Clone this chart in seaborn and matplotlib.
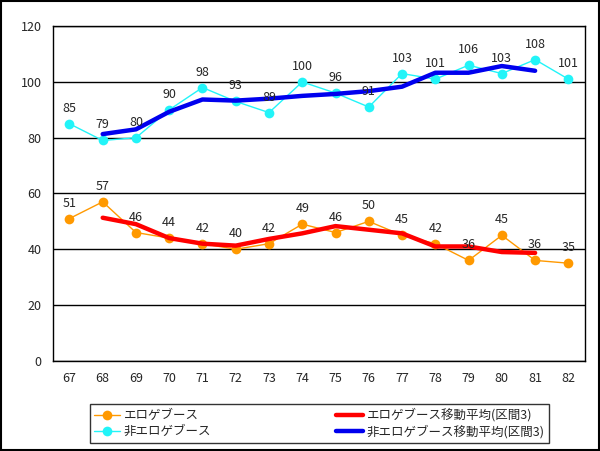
import numpy as np
import pandas as pd
import matplotlib
matplotlib.use('Agg')
import matplotlib.pyplot as plt
import seaborn as sns
from matplotlib.patches import Rectangle

# データ
years = [67, 68, 69, 70, 71, 72, 73, 74, 75, 76, 77, 78, 79, 80, 81, 82]
ero = [51, 57, 46, 44, 42, 40, 42, 49, 46, 50, 45, 42, 36, 45, 36, 35]
non_ero = [85, 79, 80, 90, 98, 93, 89, 100, 96, 91, 103, 101, 106, 103, 108, 101]

# 移動平均(区間3) 68〜81
ma_years = [68, 69, 70, 71, 72, 73, 74, 75, 76, 77, 78, 79, 80, 81]
ero_ma = [51.3, 49.0, 44.0, 42.0, 41.3, 43.7, 45.7, 48.3, 47.0, 45.7, 41.0, 41.0, 39.0, 38.7]
non_ero_ma = [81.3, 83.0, 89.3, 93.7, 93.3, 94.0, 95.0, 95.7, 96.7, 98.3, 103.3, 103.3, 105.7, 104.0]

labels = ['エロゲブース', '非エロゲブース', 'エロゲブース移動平均(区間3)', '非エロゲブース移動平均(区間3)']

sns.set_style('white')
plt.rcParams['font.family'] = ['Noto Sans CJK JP', 'DejaVu Sans']

df = pd.DataFrame({'year': years, 'ero': ero, 'non_ero': non_ero})
df_ma = pd.DataFrame({'year': ma_years, 'ero_ma': ero_ma, 'non_ero_ma': non_ero_ma})

fig = plt.figure(figsize=(6.0, 4.51), dpi=100)
ax = fig.add_axes([0.088, 0.2, 0.887, 0.742])

sns.lineplot(data=df, x='year', y='ero', ax=ax, color='#FF9900', lw=1, marker='o',
             markersize=7, markeredgewidth=0, label=labels[0])
sns.lineplot(data=df, x='year', y='non_ero', ax=ax, color='#22F4F8', lw=1, marker='o',
             markersize=7, markeredgewidth=0, label=labels[1])
sns.lineplot(data=df_ma, x='year', y='ero_ma', ax=ax, color='#FF0000', lw=3.2, label=labels[2])
sns.lineplot(data=df_ma, x='year', y='non_ero_ma', ax=ax, color='#0000EE', lw=3.2, label=labels[3])

# データラベル
for x, y in zip(years, ero):
    ax.annotate(str(y), (x, y), xytext=(0, 9), textcoords='offset pixels',
                ha='center', va='bottom', fontsize=9)
for x, y in zip(years, non_ero):
    ax.annotate(str(y), (x, y), xytext=(0, 9), textcoords='offset pixels',
                ha='center', va='bottom', fontsize=9)

ax.set_xlim(66.5, 82.5)
ax.set_ylim(0, 120)
ax.set_yticks(range(0, 121, 20))
ax.set_xticks(years)
ax.set_xticklabels([str(y) for y in years])
ax.set_xticks(np.arange(67.5, 82.5, 1), minor=True)
ax.tick_params(axis='x', which='major', length=0, labelsize=9, pad=8)
ax.tick_params(axis='x', which='minor', length=4, direction='in', width=1, color='black')
ax.tick_params(axis='y', length=0, labelsize=9, pad=8)
ax.grid(axis='y', color='black', lw=1)
ax.set_axisbelow(True)
ax.set_xlabel('')
ax.set_ylabel('')
for s in ax.spines.values():
    s.set_color('black')
    s.set_linewidth(1)

handles, lbls = ax.get_legend_handles_labels()
leg = fig.legend(handles, lbls, ncol=2, loc='center', bbox_to_anchor=(0.532, 0.061),
                 frameon=True, fancybox=False, edgecolor='black', fontsize=9,
                 columnspacing=10.0, handlelength=2.1, handletextpad=0.3,
                 borderpad=0.35, labelspacing=0.25, borderaxespad=0)
leg.get_frame().set_linewidth(1)
ax.get_legend().remove()

fig.patches.append(Rectangle((0.002, 0.002), 0.996, 0.996, transform=fig.transFigure,
                             fill=False, edgecolor='black', lw=1.5))

fig.savefig('out.png', dpi=100)
